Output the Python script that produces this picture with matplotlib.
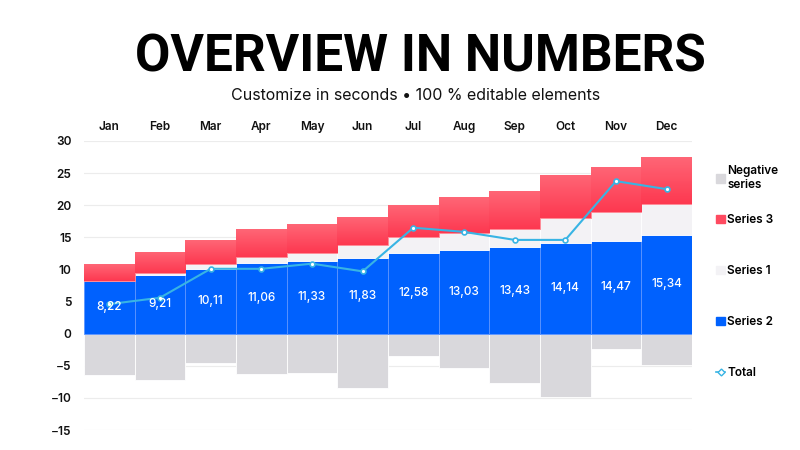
import matplotlib.pyplot as plt
import numpy as np
from matplotlib.patches import Patch
from matplotlib.lines import Line2D
from matplotlib.colors import LinearSegmentedColormap

plt.rcParams['font.family'] = ['Inter', 'DejaVu Sans']

months = ['Jan', 'Feb', 'Mar', 'Apr', 'May', 'Jun', 'Jul', 'Aug', 'Sep', 'Oct', 'Nov', 'Dec']
series2 = [8.22, 9.21, 10.11, 11.06, 11.33, 11.83, 12.58, 13.03, 13.43, 14.14, 14.47, 15.34]
series1 = [0.05, 0.2, 0.8, 0.9, 1.2, 1.9, 2.4, 2.7, 2.9, 3.8, 4.45, 4.9]
series3 = [2.5, 3.3, 3.7, 4.3, 4.5, 4.5, 5.0, 5.6, 5.9, 6.75, 7.1, 7.2]
negative = [-6.4, -7.2, -4.5, -6.25, -6.1, -8.4, -3.5, -5.35, -7.65, -9.9, -2.35, -4.9]
total = [4.6, 5.6, 10.1, 10.1, 10.9, 9.7, 16.5, 15.85, 14.6, 14.6, 23.75, 22.5]

blue = '#0061fe'
light = '#f3f2f5'
grey = '#d9d8dc'
red_top = '#ff6676'
red_bot = '#fd3850'
line_c = '#38b4e4'

fig = plt.figure(figsize=(8, 4.5), dpi=100)
ax = fig.add_axes([0.105, 0.0444, 0.76, 0.6423])

x = np.arange(len(months))
s2 = np.array(series2)
s1 = np.array(series1)
s3 = np.array(series3)

ax.bar(x, negative, width=1.0, color=grey, edgecolor='white', linewidth=0.6, zorder=2)
ax.bar(x, s2, width=1.0, color=blue, edgecolor='#5d95ff', linewidth=0.6, zorder=2)
ax.bar(x, s1, bottom=s2, width=1.0, color=light, edgecolor='white', linewidth=0.6, zorder=2)
reds = ax.bar(x, s3, bottom=s2 + s1, width=1.0, color=red_bot, edgecolor='#ff8a96', linewidth=0.6, zorder=2)

# vertical gradient on the red bars
cmap = LinearSegmentedColormap.from_list('r', [red_bot, red_top])
grad = np.linspace(0, 1, 64).reshape(-1, 1)
for b in reds:
    x0, y0 = b.get_x(), b.get_y()
    im = ax.imshow(grad, cmap=cmap, aspect='auto', origin='lower',
                   extent=[x0, x0 + b.get_width(), y0, y0 + b.get_height()], zorder=2.5)
    im.set_clip_path(b)

ax.plot(x, total, color=line_c, linewidth=1.5, marker='o', markersize=3.5,
        markerfacecolor='white', markeredgecolor=line_c, markeredgewidth=1.2, zorder=4)

for i, v in enumerate(series2):
    ax.text(i, v / 2, f'{v:.2f}'.replace('.', ','), ha='center', va='center',
            color='white', fontsize=8.5, fontweight='medium', zorder=5)

ax.set_xlim(-0.5, 11.5)
ax.set_ylim(-15, 30)
ax.set_yticks(np.arange(-15, 31, 5))
ax.set_xticks(x)
ax.set_xticklabels(months)
ax.xaxis.tick_top()
ax.tick_params(axis='both', length=0, labelsize=8.5, colors='#111111')
ax.tick_params(axis='x', pad=6)
ax.tick_params(axis='y', pad=9)
for lab in ax.get_xticklabels() + ax.get_yticklabels():
    lab.set_fontweight('semibold')
ax.grid(axis='y', color='#ececec', linewidth=0.8, zorder=0)
for s in ax.spines.values():
    s.set_visible(False)

# legend, one entry at a time so the gaps match
handles = [Patch(color=grey), Patch(color='#fe4a60'), Patch(color=light), Patch(color=blue),
           Line2D([], [], color=line_c, marker='D', markersize=3.5, markerfacecolor='white',
                  markeredgecolor=line_c, linewidth=1.2)]
labels = ['Negative\nseries', 'Series 3', 'Series 1', 'Series 2', 'Total']
leg_y = [178, 220, 271, 322, 373]
for h, lab, py in zip(handles, labels, leg_y):
    lg = fig.legend([h], [lab], loc='center left', bbox_to_anchor=(0.895, 1 - py / 450),
                    frameon=False, fontsize=8.5, handlelength=0.8, handleheight=0.7,
                    handletextpad=0.15, borderaxespad=0, borderpad=0)
    for t in lg.get_texts():
        t.set_fontweight('semibold')

fig.text(0.525, 1 - 72 / 450, 'OVERVIEW IN NUMBERS', ha='center', va='baseline', fontsize=37,
         fontweight='bold', color='black', family='Roboto')
fig.text(0.52, 1 - 100 / 450, 'Customize in seconds \u2022 100 % editable elements', ha='center',
         va='baseline', fontsize=11.5, color='#111111')

fig.savefig('out.png', dpi=100)
